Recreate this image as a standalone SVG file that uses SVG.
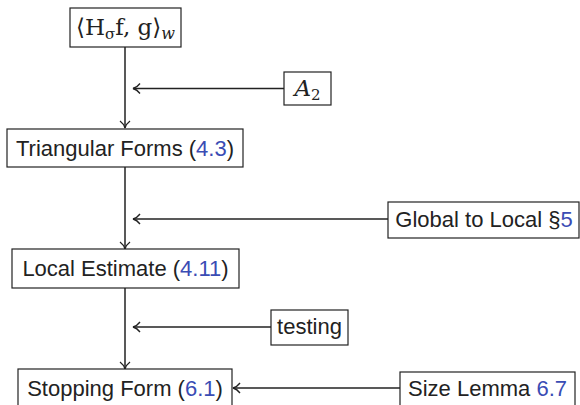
<svg xmlns="http://www.w3.org/2000/svg" width="580" height="405" viewBox="0 0 580 405">
<defs>
<style>
.box{fill:#fff;stroke:#222;stroke-width:1.2}
.t{font-family:"Liberation Sans","DejaVu Sans",sans-serif;font-size:22px;fill:#222;text-anchor:middle}
.m{font-family:"DejaVu Serif","Liberation Serif",serif;font-size:23px;fill:#222;text-anchor:middle}
.ref{fill:#3a4cb4}
.e{fill:none;stroke:#222;stroke-width:1.5}
</style>
<marker id="ah" markerWidth="10" markerHeight="12" refX="8" refY="6" orient="auto" markerUnits="userSpaceOnUse">
<path d="M1,1 Q4,5 8,6 Q4,7 1,11" fill="none" stroke="#222" stroke-width="1.3"/>
</marker>
</defs>
<rect width="580" height="405" fill="#fff"/>
<g id="connectors">
<line class="e" x1="125" y1="47" x2="125" y2="128" marker-end="url(#ah)"/>
<line class="e" x1="125" y1="167" x2="125" y2="249" marker-end="url(#ah)"/>
<line class="e" x1="125" y1="288" x2="125" y2="369" marker-end="url(#ah)"/>
<line class="e" x1="284" y1="88.5" x2="133" y2="88.5" marker-end="url(#ah)"/>
<line class="e" x1="388" y1="219" x2="133" y2="219" marker-end="url(#ah)"/>
<line class="e" x1="271" y1="327" x2="133" y2="327" marker-end="url(#ah)"/>
<line class="e" x1="400" y1="388" x2="233" y2="388" marker-end="url(#ah)"/>
</g>
<g id="inner">
<rect class="box" x="70" y="8" width="111" height="39"/>
<text class="m" x="125.5" y="35">⟨H<tspan font-size="15" dy="4">σ</tspan><tspan dy="-4">f, g⟩</tspan><tspan font-size="16" font-style="italic" dy="4">w</tspan></text>
</g>
<g id="a2">
<rect class="box" x="284" y="72" width="47" height="33"/>
<text class="m" x="307.5" y="96" font-style="italic">A<tspan font-size="15" font-style="normal" dy="4">2</tspan></text>
</g>
<g id="triangular">
<rect class="box" x="7" y="129" width="236" height="38"/>
<text class="t" x="125" y="156">Triangular Forms (<tspan class="ref">4.3</tspan>)</text>
</g>
<g id="global">
<rect class="box" x="388" y="202" width="191" height="36"/>
<text class="t" x="484" y="227">Global to Local §<tspan class="ref">5</tspan></text>
</g>
<g id="local">
<rect class="box" x="12" y="249" width="227" height="39"/>
<text class="t" x="125.5" y="276">Local Estimate (<tspan class="ref">4.11</tspan>)</text>
</g>
<g id="testing">
<rect class="box" x="271" y="310" width="77" height="35"/>
<text class="t" x="309.5" y="334">testing</text>
</g>
<g id="stopping">
<rect class="box" x="18" y="369" width="214" height="40"/>
<text class="t" x="125" y="396">Stopping Form (<tspan class="ref">6.1</tspan>)</text>
</g>
<g id="size">
<rect class="box" x="400" y="372" width="175" height="37"/>
<text class="t" x="487.5" y="396">Size Lemma <tspan class="ref">6.7</tspan></text>
</g>
</svg>
